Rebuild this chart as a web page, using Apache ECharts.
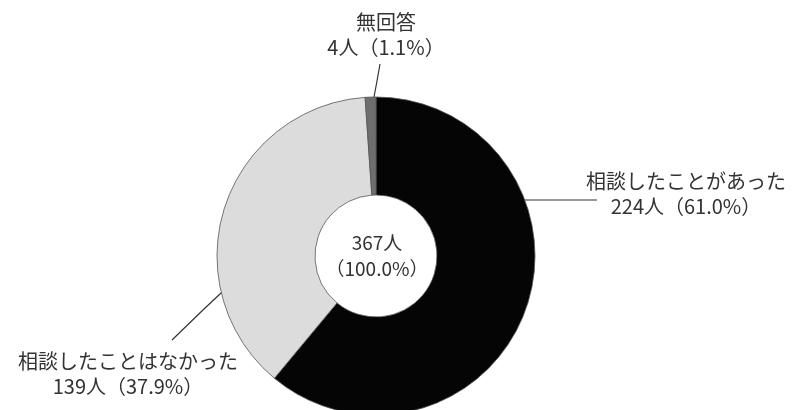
<!DOCTYPE html>
<html>
<head>
<meta charset="utf-8">
<script src="https://cdn.jsdelivr.net/npm/echarts@6/dist/echarts.min.js"></script>
<style>html,body{margin:0;padding:0;background:#fff;}#c{width:795px;height:410px;}</style>
</head>
<body>
<div id="c"></div>
<script>
const categories = ['相談したことがあった', '相談したことはなかった', '無回答'];
const counts = [224, 139, 4];
const percents = ['61.0', '37.9', '1.1'];
const totalCount = 367;
const totalPercent = '100.0';

const colors = ['#050505', '#dcdcdc', '#6e6e6e'];
const FONT = '"Noto Sans CJK JP", "Noto Sans", sans-serif';

// label anchor positions (text centre) and leader lines, by slice index
const labelPos = [
  { x: 686, y: 194, line: [[524, 200], [560, 200], [597, 200]] },
  { x: 128, y: 374, line: [[236, 279], [204, 309], [172, 340]] },
  { x: 386, y: 35, line: [[374, 97], [377, 81], [380, 64]] }
];

const chart = echarts.init(document.getElementById('c'), null, { renderer: 'canvas' });
chart.setOption({
  animation: false,
  backgroundColor: '#ffffff',
  graphic: [{
    type: 'text',
    x: 377, y: 256,
    silent: true,
    style: {
      text: totalCount + '人\n（' + totalPercent + '%）',
      align: 'center',
      verticalAlign: 'middle',
      fontSize: 19,
      lineHeight: 26,
      fontFamily: FONT,
      fill: '#333'
    }
  }],
  series: [{
    type: 'pie',
    center: [376, 256],
    radius: [61, 159],
    startAngle: 90,
    clockwise: true,
    silent: true,
    itemStyle: { borderColor: '#555', borderWidth: 0.8 },
    label: {
      show: true,
      formatter: p => p.name + '\n' + counts[p.dataIndex] + '人（' + percents[p.dataIndex] + '%）',
      fontSize: 20,
      lineHeight: 25,
      fontFamily: FONT,
      color: '#333',
      align: 'center',
      overflow: 'none',
      width: 300
    },
    labelLine: { show: true, lineStyle: { color: '#333', width: 1.2 } },
    labelLayout: function (params) {
      const p = labelPos[params.dataIndex];
      return {
        x: p.x,
        y: p.y,
        align: 'center',
        verticalAlign: 'middle',
        labelLinePoints: p.line
      };
    },
    data: categories.map((c, i) => ({ name: c, value: counts[i], itemStyle: { color: colors[i] } }))
  }]
});
</script>
</body>
</html>
